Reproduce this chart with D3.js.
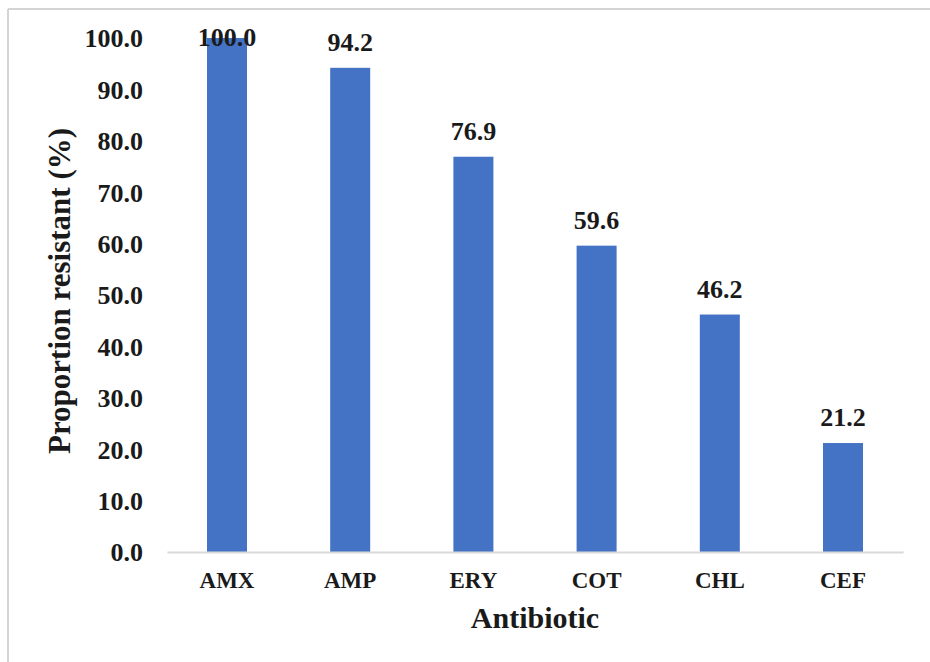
<!DOCTYPE html>
<html>
<head>
<meta charset="utf-8">
<script src="https://cdn.jsdelivr.net/npm/d3@7"></script>
<style>
  html, body { margin: 0; padding: 0; background: #fff; }
  svg { display: block; }
  svg text { font-family: "Liberation Serif", "Times New Roman", "DejaVu Serif", serif !important; font-weight: bold; fill: #1a1a1a; }
</style>
</head>
<body>
<script>
const categories = ["AMX", "AMP", "ERY", "COT", "CHL", "CEF"];
const values = [100.0, 94.2, 76.9, 59.6, 46.2, 21.2];
const yTicks = [0, 10, 20, 30, 40, 50, 60, 70, 80, 90, 100];
const xTitle = "Antibiotic";
const yTitle = "Proportion resistant (%)";

const W = 930, H = 662;
const svg = d3.select("body").append("svg").attr("width", W).attr("height", H);

// frame border (top and left visible)
svg.append("line").attr("x1", 8).attr("x2", W).attr("y1", 9).attr("y2", 9)
  .attr("stroke", "#d4d4d4").attr("stroke-width", 2);
svg.append("line").attr("x1", 8).attr("x2", 8).attr("y1", 9).attr("y2", H)
  .attr("stroke", "#d4d4d4").attr("stroke-width", 2);

const plotLeft = 165.4, plotRight = 904.6, plotTop = 38, plotBottom = 552;

const x = d3.scaleBand().domain(categories).range([plotLeft, plotRight]).padding(0);
const y = d3.scaleLinear().domain([0, 100]).range([plotBottom, plotTop]);
const barW = 40;

// y tick labels
const yAxis = d3.axisLeft(y).tickValues(yTicks).tickFormat(d3.format(".1f")).tickSize(0).tickPadding(0);
const ya = svg.append("g").attr("transform", `translate(143,0)`).call(yAxis);
ya.attr("font-family", null).attr("font-size", null);
ya.select(".domain").remove();
ya.selectAll("text").style("font-size", "26px").attr("fill", "#1a1a1a").attr("dy", "0.34em");

// bars
svg.append("g").selectAll("rect").data(values).join("rect")
  .attr("x", (d, i) => x(categories[i]) + x.bandwidth() / 2 - barW / 2)
  .attr("width", barW)
  .attr("y", d => y(d))
  .attr("height", d => y(0) - y(d))
  .attr("fill", "#4472C4");

// x axis line
svg.append("line").attr("x1", plotLeft + 2).attr("x2", plotRight - 1)
  .attr("y1", y(0) + 0.5).attr("y2", y(0) + 0.5)
  .attr("stroke", "#d9d9d9").attr("stroke-width", 2);

// category labels
const xAxis = d3.axisBottom(x).tickSize(0).tickPadding(0);
const xa = svg.append("g").attr("transform", `translate(0,${plotBottom})`).call(xAxis);
xa.attr("font-family", null).attr("font-size", null);
xa.select(".domain").remove();
xa.selectAll("text").style("font-size", "23px").attr("fill", "#1a1a1a").attr("dy", null).attr("y", 36);

// data labels
svg.append("g").selectAll("text").data(values).join("text")
  .attr("x", (d, i) => x(categories[i]) + x.bandwidth() / 2)
  .attr("y", d => d >= 100 ? y(d) + 8 : y(d) - 17)
  .attr("text-anchor", "middle")
  .style("font-size", "26px")
  .text(d => d3.format(".1f")(d));

// axis titles
svg.append("text").attr("x", (plotLeft + plotRight) / 2).attr("y", 628)
  .attr("text-anchor", "middle").style("font-size", "30px").text(xTitle);
svg.append("text").attr("transform", `translate(70,${(plotTop + plotBottom) / 2 - 4}) rotate(-90)`)
  .attr("text-anchor", "middle").style("font-size", "31px").text(yTitle);
</script>
</body>
</html>
